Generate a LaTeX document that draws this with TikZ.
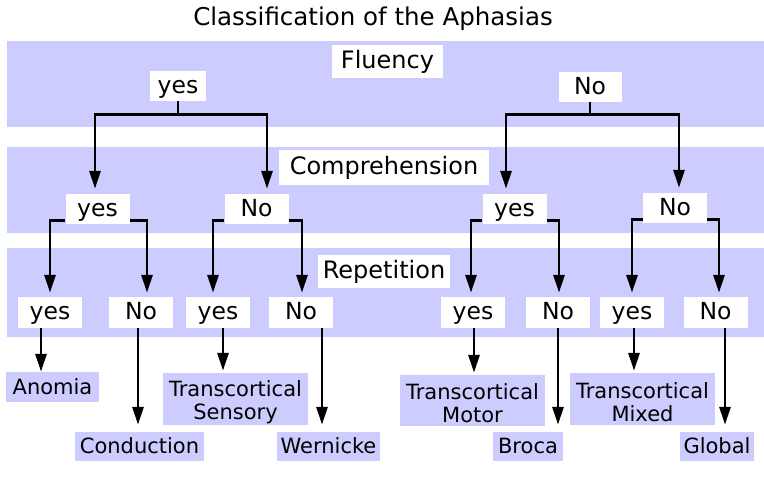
\documentclass[tikz,border=0pt]{standalone}
\usepackage{fontspec}
\setmainfont{DejaVu Sans}
\usetikzlibrary{arrows.meta}
\definecolor{band}{RGB}{204,204,255}
\tikzset{
  x=1pt, y=-1pt,
  lbl/.style={fill=white, draw=none, inner sep=0pt, font=\fontsize{24}{26}\selectfont, text height=15pt, text depth=0pt},
  ans/.style={fill=white, draw=none, inner sep=0pt, minimum width=64pt, minimum height=30pt, font=\fontsize{23.5}{25}\selectfont, text height=15pt, text depth=0pt},
  obox/.style={fill=band, draw=none, inner sep=0pt, minimum height=29pt, font=\fontsize{21}{22}\selectfont, text height=15pt, text depth=0pt},
  obox2/.style={fill=band, draw=none, inner sep=0pt, minimum width=145pt, minimum height=52pt},
  otext/.style={inner sep=0pt, align=center, font=\fontsize{21}{23}\selectfont},
  conn/.style={line width=2.8pt, black},
  arr/.style={conn, -{Triangle[length=18pt,width=11pt]}},
}
\begin{document}
\begin{tikzpicture}
\useasboundingbox (0,0) rectangle (764,494);
% title
\node[font=\fontsize{24.5}{26}\selectfont, anchor=base] (title) at (373,26) {Classification of the Aphasias};
% bands
\path[fill=band] (7,41) rectangle (764,127);
\path[fill=band] (7,147) rectangle (764,233);
\path[fill=band] (7,248) rectangle (764,337);
% band labels
\node[lbl, minimum width=111pt, minimum height=33pt] (flu) at (387.5,61.5) {Fluency};
\node[lbl, minimum width=210pt, minimum height=35pt] (comp) at (384,167.5) {Comprehension};
\node[lbl, minimum width=132pt, minimum height=33pt] (rep) at (384,271.5) {Repetition};
% level 1
\node[ans, minimum width=56pt] (fy) at (178,86) {yes};
\node[ans, minimum width=63pt] (fn) at (590,87) {No};
% level 2
\node[ans] (cyl) at (97.5,209) {yes};
\node[ans] (cnl) at (256.5,209) {No};
\node[ans] (cyr) at (514.5,209) {yes};
\node[ans] (cnr) at (675,208) {No};
% level 3
\node[ans, minimum height=31pt] (r1) at (50,312.5) {yes};
\node[ans, minimum height=31pt] (r2) at (141,312.5) {No};
\node[ans, minimum height=31pt] (r3) at (218,312.5) {yes};
\node[ans, minimum height=31pt] (r4) at (301,312.5) {No};
\node[ans, minimum height=31pt] (r5) at (473,312.5) {yes};
\node[ans, minimum height=31pt] (r6) at (558,312.5) {No};
\node[ans, minimum height=31pt] (r7) at (632,312.5) {yes};
\node[ans, minimum height=31pt] (r8) at (715.5,312.5) {No};
% outcomes
\node[obox, minimum width=93pt, minimum height=30pt] (anom) at (52.5,387) {Anomia};
\node[obox, minimum width=129pt] (cond) at (139.5,446.5) {Conduction};
\node[obox2] (tsens) at (235.5,399) {};
\node[otext] (tsenst) at ([yshift=-3pt]tsens.center) {Transcortical\\Sensory};
\node[obox, minimum width=103pt] (wern) at (328.5,446.5) {Wernicke};
\node[obox2, minimum height=51pt] (tmot) at (472.5,400.5) {};
\node[otext] (tmott) at ([yshift=-3pt]tmot.center) {Transcortical\\Motor};
\node[obox, minimum width=70pt] (broca) at (528,446.5) {Broca};
\node[obox2] (tmix) at (642.5,399) {};
\node[otext] (tmixt) at ([yshift=-3pt]tmix.center) {Transcortical\\Mixed};
\node[obox, minimum width=74pt] (glob) at (717,446.5) {Global};
% level-1 connectors
\draw[conn] (fy.south) -- ++(0,13) coordinate (jy);
\draw[arr] (jy) -| ([xshift=-2.5pt,yshift=5pt]cyl.north);
\draw[arr] (jy) -| ([xshift=10.5pt,yshift=5pt]cnl.north);
\draw[conn] (fn.south) -- ++(0,12) coordinate (jn);
\draw[arr] (jn) -| ([xshift=-8.5pt,yshift=5pt]cyr.north);
\draw[arr] (jn) -| ([xshift=4pt,yshift=5pt]cnr.north);
% level-2 connectors
\draw[arr] ([yshift=4pt]cyl.south west) -| ([yshift=4pt]r1.north);
\draw[arr] ([yshift=4pt]cyl.south east) -| ([xshift=6pt,yshift=4pt]r2.north);
\draw[arr] ([yshift=4pt]cnl.south west) -| ([xshift=-5pt,yshift=4pt]r3.north);
\draw[arr] ([yshift=4pt]cnl.south east) -| ([xshift=1pt,yshift=4pt]r4.north);
\draw[arr] ([yshift=4pt]cyr.south west) -| ([xshift=-2pt,yshift=4pt]r5.north);
\draw[arr] ([yshift=4pt]cyr.south east) -| ([xshift=1pt,yshift=4pt]r6.north);
\draw[arr] ([yshift=4pt]cnr.south west) -| ([yshift=4pt]r7.north);
\draw[arr] ([yshift=4pt]cnr.south east) -| ([xshift=3.5pt,yshift=4pt]r8.north);
% level-3 connectors
\draw[arr] ([xshift=-9pt]r1.south) -- ([xshift=-9pt]r1.south |- anom.north);
\draw[arr, shorten >=7pt] ([xshift=-3pt]r2.south) -- ([xshift=-3pt]r2.south |- cond.north);
\draw[arr, shorten >=2pt] ([xshift=5pt]r3.south) -- ([xshift=5pt]r3.south |- tsens.north);
\draw[arr, shorten >=7pt] ([xshift=21pt]r4.south) -- ([xshift=21pt]r4.south |- wern.north);
\draw[arr, shorten >=2pt] ([xshift=1pt]r5.south) -- ([xshift=1pt]r5.south |- tmot.north);
\draw[arr, shorten >=7pt] (r6.south) -- (r6.south |- broca.north);
\draw[arr, shorten >=2pt] ([xshift=2pt]r7.south) -- ([xshift=2pt]r7.south |- tmix.north);
\draw[arr, shorten >=7pt] ([xshift=9.5pt]r8.south) -- ([xshift=9.5pt]r8.south |- glob.north);
\end{tikzpicture}
\end{document}
